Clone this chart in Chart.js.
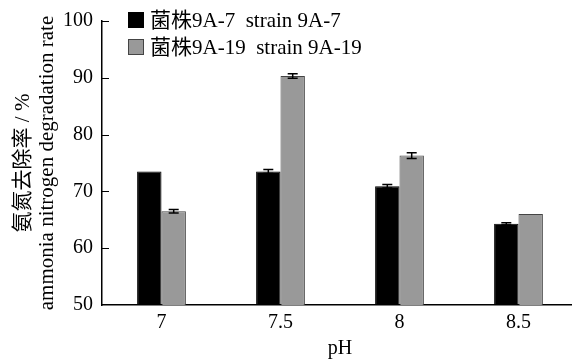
<!DOCTYPE html>
<html>
<head>
<meta charset="utf-8">
<script src="https://cdn.jsdelivr.net/npm/chart.js@4/dist/chart.umd.min.js"></script>
<style>
  html, body { margin: 0; padding: 0; background: #fff; overflow: hidden; }
  #wrap { width: 580px; height: 361px; }
</style>
</head>
<body>
<div id="wrap"><canvas id="c" width="580" height="361"></canvas></div>
<script>
// pH levels tested and removal rates (%) with standard errors for each strain
const phLevels = ['7', '7.5', '8', '8.5'];
const strainA7Rate = [73.5, 73.5, 70.9, 64.3];
const strainA7Err = [0, 0.35, 0.3, 0.2];
const strainA19Rate = [66.5, 90.3, 76.3, 66.0];
const strainA19Err = [0.3, 0.4, 0.5, 0];
const yTickValues = [50, 60, 70, 80, 90, 100];
const seriesLabels = ['菌株9A-7  strain 9A-7', '菌株9A-19  strain 9A-19'];
const errorSets = [strainA7Err, strainA19Err];

const FONT = "'Liberation Serif', 'Times New Roman', 'Noto Sans CJK SC', serif";

// Error bars drawn from the error arrays through the y scale
const errorBars = {
  id: 'errorBars',
  afterDatasetsDraw(chart) {
    const ctx = chart.ctx;
    const y = chart.scales.y;
    ctx.save();
    ctx.strokeStyle = '#000';
    ctx.lineWidth = 1.5;
    chart.data.datasets.forEach((ds, di) => {
      const meta = chart.getDatasetMeta(di);
      meta.data.forEach((bar, i) => {
        const e = errorSets[di][i];
        if (!e) return;
        const v = ds.data[i];
        const yTop = y.getPixelForValue(v + e);
        const yBot = y.getPixelForValue(v - e);
        const x = bar.x;
        ctx.beginPath();
        ctx.moveTo(x, yTop); ctx.lineTo(x, yBot);
        ctx.moveTo(x - 5, yTop); ctx.lineTo(x + 5, yTop);
        ctx.moveTo(x - 5, yBot); ctx.lineTo(x + 5, yBot);
        ctx.stroke();
      });
    });
    ctx.restore();
  }
};

// Inward tick marks on the y axis and the stacked legend in the top-left
const decorations = {
  id: 'decorations',
  afterDraw(chart) {
    const ctx = chart.ctx;
    const y = chart.scales.y;
    const left = chart.chartArea.left;
    ctx.save();
    ctx.strokeStyle = '#000';
    ctx.lineWidth = 1;
    yTickValues.forEach(v => {
      if (v === y.min) return;
      const py = Math.round(y.getPixelForValue(v)) + 0.5;
      ctx.beginPath();
      ctx.moveTo(left, py);
      ctx.lineTo(left + 7, py);
      ctx.stroke();
    });

    ctx.font = '21px ' + FONT;
    ctx.textBaseline = 'middle';
    ctx.textAlign = 'left';
    const rows = [20, 47];
    chart.data.datasets.forEach((ds, i) => {
      const cy = rows[i];
      ctx.fillStyle = ds.backgroundColor;
      ctx.fillRect(128.5, cy - 7.5, 15, 15);
      ctx.strokeStyle = ds.borderColor;
      ctx.lineWidth = 1;
      ctx.strokeRect(128.5, cy - 7.5, 15, 15);
      ctx.fillStyle = '#000';
      ctx.fillText(seriesLabels[i], 150, cy + 1);
    });
    ctx.restore();
  }
};

new Chart(document.getElementById('c'), {
  type: 'bar',
  data: {
    labels: phLevels,
    datasets: [
      {
        label: seriesLabels[0],
        data: strainA7Rate,
        backgroundColor: '#000000',
        borderColor: '#000000',
        borderWidth: 1
      },
      {
        label: seriesLabels[1],
        data: strainA19Rate,
        backgroundColor: '#999999',
        borderColor: '#444444',
        borderWidth: 1
      }
    ]
  },
  options: {
    responsive: false,
    animation: false,
    layout: { padding: { top: 16, right: 2, bottom: 0, left: 0 } },
    datasets: { bar: { categoryPercentage: 0.41, barPercentage: 1.0 } },
    plugins: {
      legend: { display: false },
      tooltip: { enabled: false }
    },
    scales: {
      x: {
        grid: { display: true, drawOnChartArea: false, drawTicks: false },
        border: { display: true, color: '#000', width: 1.5 },
        ticks: { color: '#000', padding: 6, font: { family: FONT, size: 20 } },
        title: {
          display: true, text: 'pH', color: '#000',
          font: { family: FONT, size: 20 }, padding: { top: 0, bottom: 0 }
        },
        afterFit(scale) { scale.height = 56; }
      },
      y: {
        min: 50, max: 100,
        afterBuildTicks(scale) { scale.ticks = yTickValues.map(v => ({ value: v })); },
        grid: { display: true, drawOnChartArea: false, drawTicks: false },
        border: { display: true, color: '#000', width: 1.5 },
        ticks: { color: '#000', padding: 9, font: { family: FONT, size: 20 } },
        title: {
          display: true,
          text: ['氨氮去除率 / %', 'ammonia nitrogen degradation rate'],
          color: '#000',
          font: { family: FONT, size: 21, lineHeight: 1.15 },
          padding: { top: 11, bottom: 0 }
        },
        afterFit(scale) { scale.width = 102; }
      }
    }
  },
  plugins: [errorBars, decorations]
});
</script>
</body>
</html>
